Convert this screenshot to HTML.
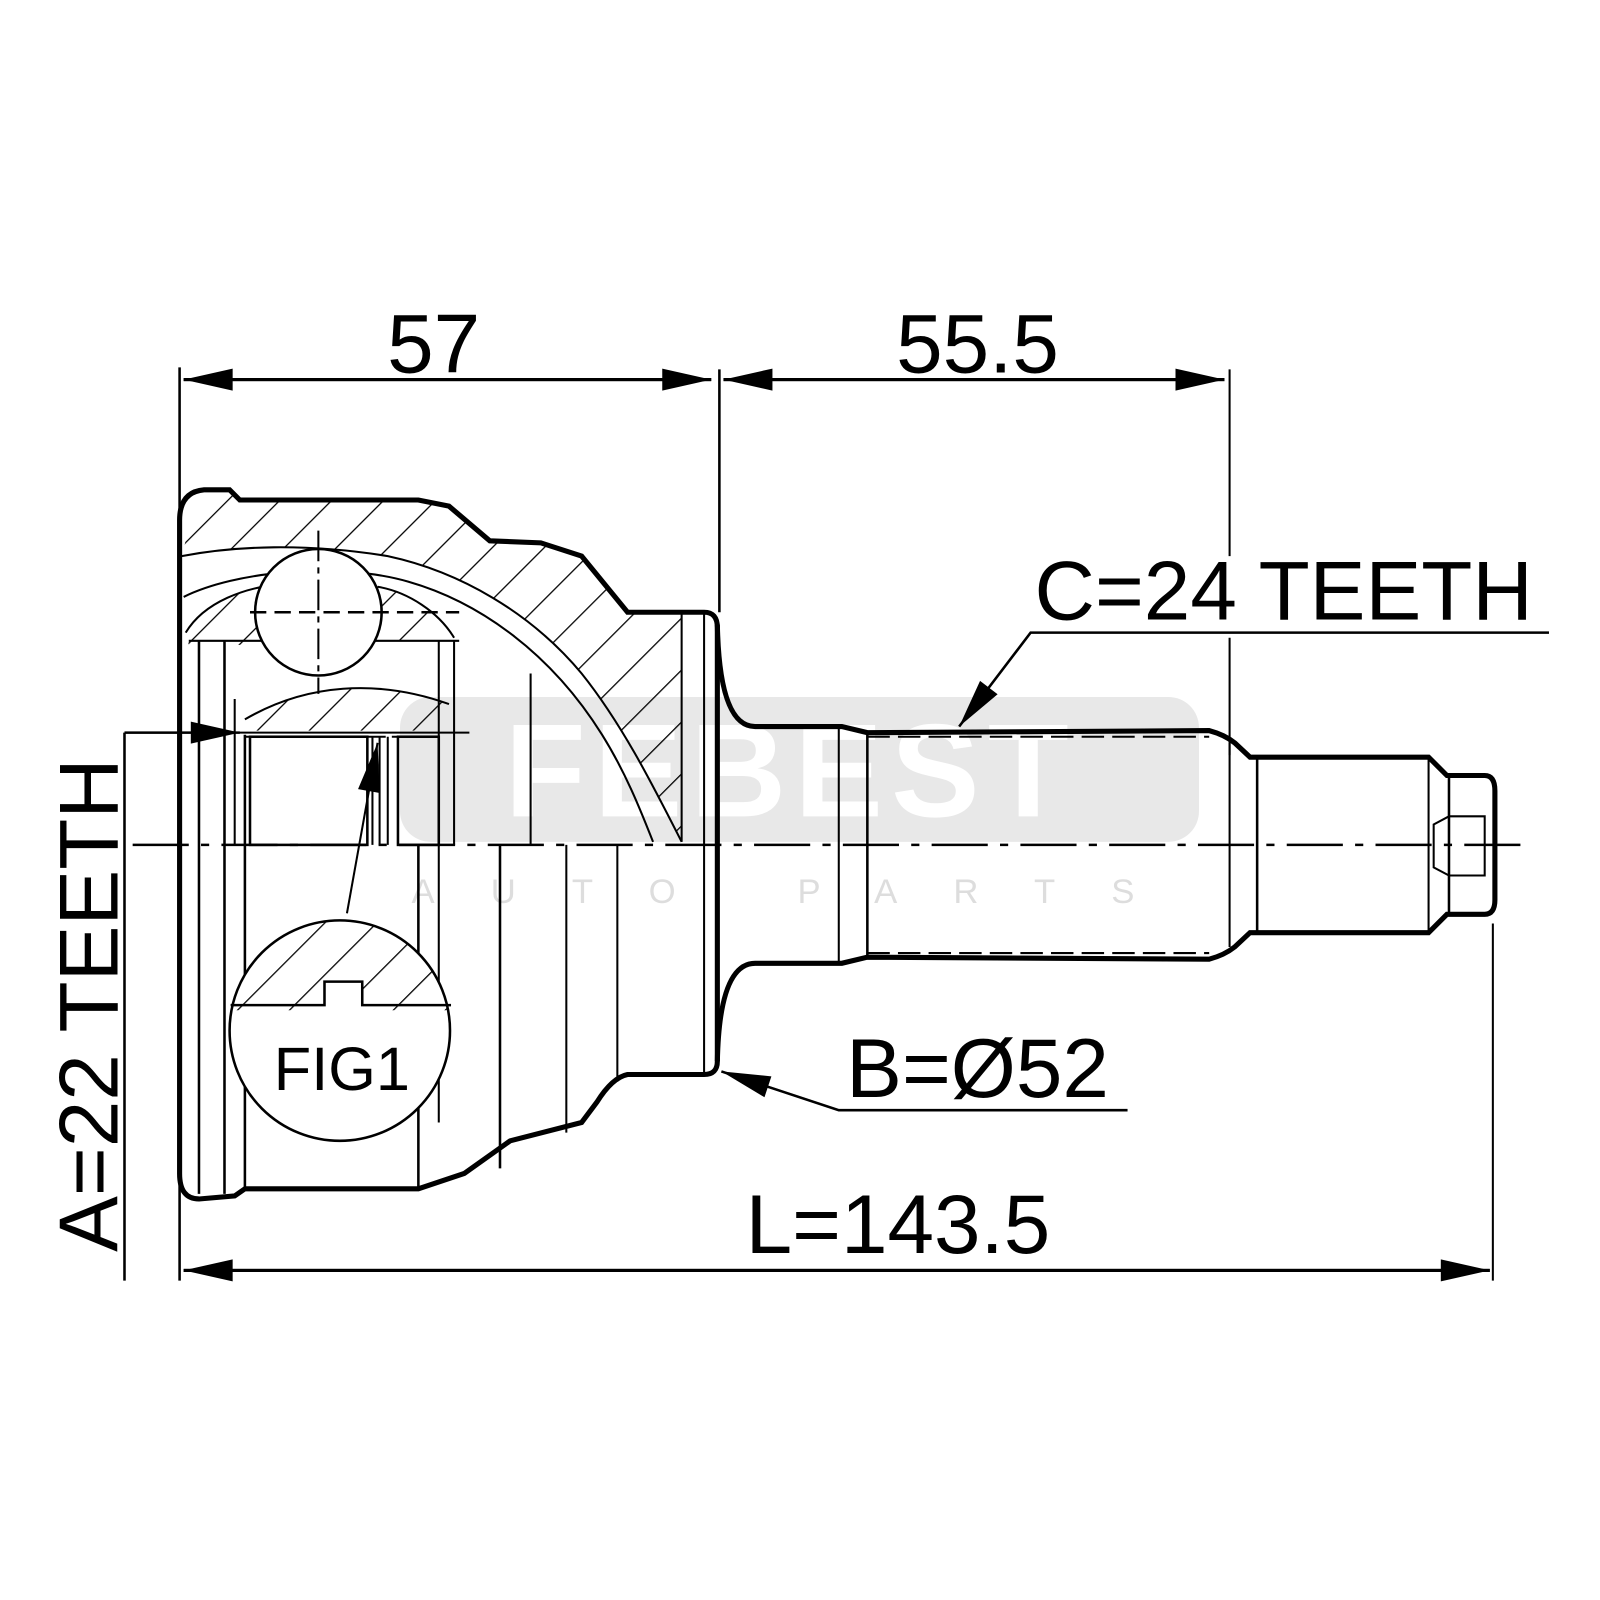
<!DOCTYPE html>
<html><head><meta charset="utf-8"><style>
html,body{margin:0;padding:0;background:#fff;}
svg{display:block;}
text{font-family:"Liberation Sans",Arial,sans-serif;}
</style></head><body>
<svg width="1600" height="1600" viewBox="0 0 1568 1568" xmlns="http://www.w3.org/2000/svg">
<defs>
<pattern id="h" patternUnits="userSpaceOnUse" width="36" height="36" patternTransform="rotate(45)">
<line x1="0" y1="0" x2="0" y2="36" stroke="#000" stroke-width="2.5"/>
</pattern>
<marker id="a" viewBox="0 0 20 10" refX="20" refY="5" markerWidth="60" markerHeight="24" markerUnits="userSpaceOnUse" orient="auto"><path d="M0,0.5 L20,5 L0,9.5 Z" fill="#000"/></marker>
<clipPath id="fc"><circle cx="333" cy="1010" r="108"/></clipPath>
</defs>

<!-- watermark -->
<rect x="392" y="683" width="783" height="142" rx="30" fill="#e8e8e8"/>
<text x="775" y="800" font-size="130" font-weight="bold" fill="#fff" text-anchor="middle" letter-spacing="8">FEBEST</text>
<text x="785" y="885" font-size="34" fill="#ddd" text-anchor="middle" letter-spacing="55">AUTO PARTS</text>

<g stroke="#000" fill="none">
<line x1="176" y1="360" x2="176" y2="1255" stroke-width="2.5"/>
<line x1="705" y1="362" x2="705" y2="600" stroke-width="2.5"/>
<line x1="1205" y1="362" x2="1205" y2="545" stroke-width="2"/>
<line x1="1205" y1="625" x2="1205" y2="740" stroke-width="2"/>
<line x1="1463" y1="905" x2="1463" y2="1255" stroke-width="2"/>
<line x1="180" y1="372" x2="697" y2="372" stroke-width="3" marker-end="url(#a)"/>
<line x1="697" y1="372" x2="180" y2="372" stroke-width="3" marker-end="url(#a)"/>
<line x1="709" y1="372" x2="1200" y2="372" stroke-width="3" marker-end="url(#a)"/>
<line x1="1200" y1="372" x2="709" y2="372" stroke-width="3" marker-end="url(#a)"/>
<line x1="180" y1="1245" x2="1460" y2="1245" stroke-width="3" marker-end="url(#a)"/>
<line x1="1460" y1="1245" x2="180" y2="1245" stroke-width="3" marker-end="url(#a)"/>
<line x1="122" y1="718" x2="122" y2="1255" stroke-width="2.5"/>
<line x1="122" y1="718" x2="460" y2="718" stroke-width="2"/>
<line x1="122" y1="718" x2="235" y2="718" stroke-width="2.5" marker-end="url(#a)"/>
<line x1="130" y1="828" x2="1495" y2="828" stroke-width="2.5" stroke-dasharray="55,12,8,12"/>

<path d="M178,545 C230,535 300,532 380,545 C450,560 520,600 570,660 C610,710 640,770 668,825 L668,600 L615,600 L570,545 L530,532 L480,530 L440,496 L410,490 L235,490 L225,480 L195,480 Z" fill="url(#h)" stroke="none"/>
<path d="M240,705 C300,670 370,665 440,690 L440,716 L240,716 Z" fill="url(#h)" stroke="none"/>
<path d="M182,620 C200,590 240,575 280,572 L250,632 L185,632 Z M370,575 C400,580 430,600 445,625 L375,628 Z" fill="url(#h)" stroke="none"/>

<path d="M176,510 Q176,482 200,480 L225,480 L235,490 L410,490 L440,496 L480,530 L530,532 L570,545 L615,600 L690,600 Q703,600 703,615 L703,1040 Q703,1053 690,1053 L615,1053 Q600,1056 585,1080 L570,1100 L500,1118 L455,1150 L410,1165 L240,1165 L230,1172 L195,1175 Q176,1175 176,1150 Z" stroke-width="5"/>
<path d="M178,545 C230,535 300,532 380,545 C450,560 520,600 570,660 C610,710 640,770 668,825" stroke-width="2"/>
<path d="M180,585 C230,560 330,550 400,570 C470,590 540,640 590,720 C615,760 630,800 640,825" stroke-width="2"/>
<path d="M182,620 C200,590 240,575 280,572 M370,575 C400,580 430,600 445,625" stroke-width="2"/>
<line x1="185" y1="628" x2="450" y2="628" stroke-width="2"/>
<path d="M240,705 C300,670 370,665 440,690" stroke-width="2"/>
<line x1="668" y1="600" x2="668" y2="825" stroke-width="2"/>
<line x1="690" y1="600" x2="690" y2="1053" stroke-width="2"/>
<line x1="195" y1="628" x2="195" y2="1170" stroke-width="2.5"/>
<line x1="220" y1="628" x2="220" y2="1170" stroke-width="2.5"/>
<line x1="230" y1="685" x2="230" y2="828" stroke-width="2"/>
<line x1="240" y1="720" x2="240" y2="1165" stroke-width="2.5"/>
<line x1="410" y1="828" x2="410" y2="1165" stroke-width="2.5"/>
<line x1="430" y1="628" x2="430" y2="1100" stroke-width="2"/>
<line x1="445" y1="628" x2="445" y2="828" stroke-width="2"/>
<line x1="490" y1="828" x2="490" y2="1145" stroke-width="2.5"/>
<line x1="520" y1="660" x2="520" y2="828" stroke-width="2"/>
<line x1="555" y1="828" x2="555" y2="1110" stroke-width="2"/>
<line x1="605" y1="828" x2="605" y2="1060" stroke-width="2"/>
<rect x="245" y="722" width="115" height="106" stroke-width="2.5"/>
<rect x="390" y="722" width="40" height="106" stroke-width="2.5"/>
<line x1="240" y1="722" x2="430" y2="722" stroke-width="2" stroke-dasharray="18,6"/>
<line x1="365" y1="722" x2="365" y2="828" stroke-width="2"/>
<line x1="372" y1="722" x2="372" y2="828" stroke-width="2"/>
<line x1="380" y1="722" x2="380" y2="828" stroke-width="2"/>
<circle cx="312" cy="600" r="62" fill="#fff" stroke-width="2.5"/>
<line x1="312" y1="520" x2="312" y2="680" stroke-width="2" stroke-dasharray="30,6,6,6"/>
<line x1="245" y1="600" x2="450" y2="600" stroke-width="2.5" stroke-dasharray="16,8"/>

<circle cx="333" cy="1010" r="108" fill="#fff" stroke-width="2.5"/>
<path d="M220,990 L318,990 L318,962 L355,962 L355,990 L445,990 L445,880 L220,880 Z" fill="url(#h)" stroke="none" clip-path="url(#fc)"/>
<path d="M226,985 L318,985 L318,962 L355,962 L355,985 L442,985" stroke-width="2.5"/>
<line x1="340" y1="895" x2="370" y2="728" stroke-width="2" marker-end="url(#a)"/>

<path d="M703,612 Q705,712 740,712 L825,712 L850,718 L1185,716 Q1200,720 1210,728 L1225,742 L1400,742 L1418,760 L1455,760 Q1465,760 1465,775 L1465,882 Q1465,896 1455,896 L1418,896 L1400,914 L1225,914 L1210,928 Q1200,936 1185,940 L850,938 L825,944 L740,944 Q705,944 703,1040" stroke-width="5" fill="none"/>
<line x1="822" y1="712" x2="822" y2="944" stroke-width="2"/>
<line x1="850" y1="718" x2="850" y2="938" stroke-width="2.5"/>
<line x1="1205" y1="728" x2="1205" y2="928" stroke-width="2"/>
<line x1="1232" y1="742" x2="1232" y2="914" stroke-width="2.5"/>
<line x1="1400" y1="742" x2="1400" y2="914" stroke-width="2"/>
<line x1="1420" y1="760" x2="1420" y2="896" stroke-width="2.5"/>
<path d="M1420,800 L1405,808 L1405,850 L1420,858 L1455,858 L1455,800 Z" stroke-width="2"/>
<line x1="850" y1="722" x2="1185" y2="722" stroke-width="2" stroke-dasharray="22,8"/>
<line x1="850" y1="934" x2="1185" y2="934" stroke-width="2" stroke-dasharray="22,8"/>

<polyline points="1518,620 1010,620 940,712" stroke-width="2.5"/>
<line x1="1010" y1="620" x2="940" y2="712" stroke-width="2" marker-end="url(#a)"/>
<polyline points="1105,1088 822,1088 707,1050" stroke-width="2.5"/>
<line x1="822" y1="1088" x2="707" y2="1050" stroke-width="2" marker-end="url(#a)"/>
</g>

<g fill="#000">
<text x="425" y="365" font-size="82" text-anchor="middle">57</text>
<text x="958" y="365" font-size="82" text-anchor="middle">55.5</text>
<text x="1258" y="607" font-size="82" text-anchor="middle">C=24 TEETH</text>
<text x="958" y="1075" font-size="82" text-anchor="middle">B=Ø52</text>
<text x="880" y="1228" font-size="82" text-anchor="middle">L=143.5</text>
<text x="335" y="1068" font-size="60" text-anchor="middle">FIG1</text>
<text transform="translate(115,985) rotate(-90)" font-size="82" text-anchor="middle">A=22 TEETH</text>
</g>
</svg>
</body></html>
